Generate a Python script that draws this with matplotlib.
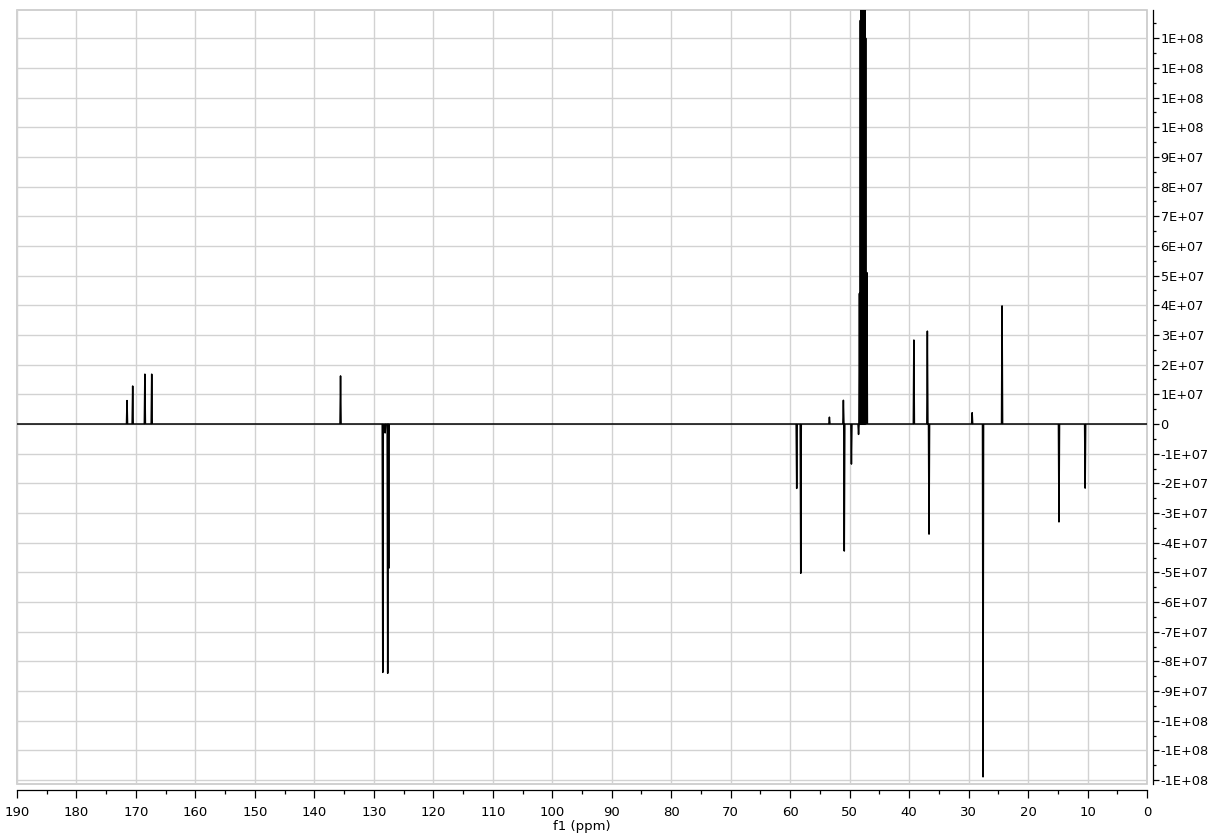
import numpy as np
import matplotlib
matplotlib.use("Agg")
import matplotlib.pyplot as plt
from matplotlib.patches import Rectangle
from matplotlib.ticker import MultipleLocator, FuncFormatter

# peak positions (ppm) and intensities
peak_ppm = [171.5, 170.55, 168.5, 167.35, 135.6,
            128.5, 128.1, 127.67, 127.5,
            58.9, 58.22, 53.4, 51.05, 50.9, 49.7,
            48.5, 48.35, 48.2, 48.05, 47.9, 47.75, 47.6, 47.45, 47.3, 47.1,
            39.2, 36.93, 36.65, 29.4, 27.57, 24.37, 14.8, 10.4]
peak_int = [0.79e7, 1.28e7, 1.68e7, 1.68e7, 1.62e7,
            -8.37e7, -0.3e7, -8.40e7, -4.86e7,
            -2.17e7, -5.03e7, 0.23e7, 0.8e7, -4.28e7, -1.35e7,
            -0.35e7, 4.4e7, 13.6e7, 2.2e8, 2.6e8, 2.6e8, 2.2e8, 1.5e8, 1.3e8, 5.1e7,
            2.83e7, 3.13e7, -3.71e7, 0.38e7, -11.89e7, 3.98e7, -3.3e7, -2.16e7]

half_w = 0.09

# build the trace: flat baseline with a narrow spike at each peak
order = np.argsort(peak_ppm)[::-1]
xs = [190.0]
ys = [0.0]
for i in order:
    p, h = peak_ppm[i], peak_int[i]
    xs += [p + half_w, p, p - half_w]
    ys += [0.0, h, 0.0]
xs.append(0.0)
ys.append(0.0)

plt.rcParams['font.family'] = ['DejaVu Sans']
fig = plt.figure(figsize=(12.12, 8.36), dpi=100)
ax = fig.add_axes([17 / 1212, 52 / 836, 1130 / 1212, 774 / 836])

ax.plot(xs, ys, color='black', lw=1.1, zorder=3)

ax.set_xlim(190, 0)
ax.set_ylim(-1.213e8, 1.395e8)

ax.xaxis.set_major_locator(MultipleLocator(10))
ax.xaxis.set_minor_locator(MultipleLocator(5))
ax.yaxis.set_major_locator(MultipleLocator(1e7))
ax.yaxis.set_minor_locator(MultipleLocator(5e6))

def yfmt(v, pos):
    if abs(v) < 1:
        return '0'
    return f'{v:.0E}'

ax.yaxis.set_major_formatter(FuncFormatter(yfmt))
ax.yaxis.tick_right()

ax.grid(True, which='major', color='#d2d2d2', lw=1.0, zorder=0)

for s in ['top', 'left']:
    ax.spines[s].set_visible(False)
ax.spines['right'].set_position(('outward', 4))
ax.spines['bottom'].set_position(('outward', 4))
ax.spines['right'].set_linewidth(0.9)
ax.spines['bottom'].set_linewidth(0.9)

ax.add_patch(Rectangle((0, 0), 1, 1, transform=ax.transAxes, fill=False,
                       ec='#c8c8c8', lw=1.2, clip_on=False, zorder=1))

ax.tick_params(axis='x', which='major', direction='out', length=5.5, width=0.9,
               labelsize=9.5, pad=6.5)
ax.tick_params(axis='x', which='minor', direction='out', length=3, width=0.9)
ax.tick_params(axis='y', which='major', direction='out', length=4.3, width=0.9,
               labelsize=9.3, pad=1.5)
ax.tick_params(axis='y', which='minor', direction='out', length=2.2, width=0.9)

ax.set_xlabel('f1 (ppm)', fontsize=9.5, labelpad=0.5)

fig.savefig('out.png', dpi=100)
